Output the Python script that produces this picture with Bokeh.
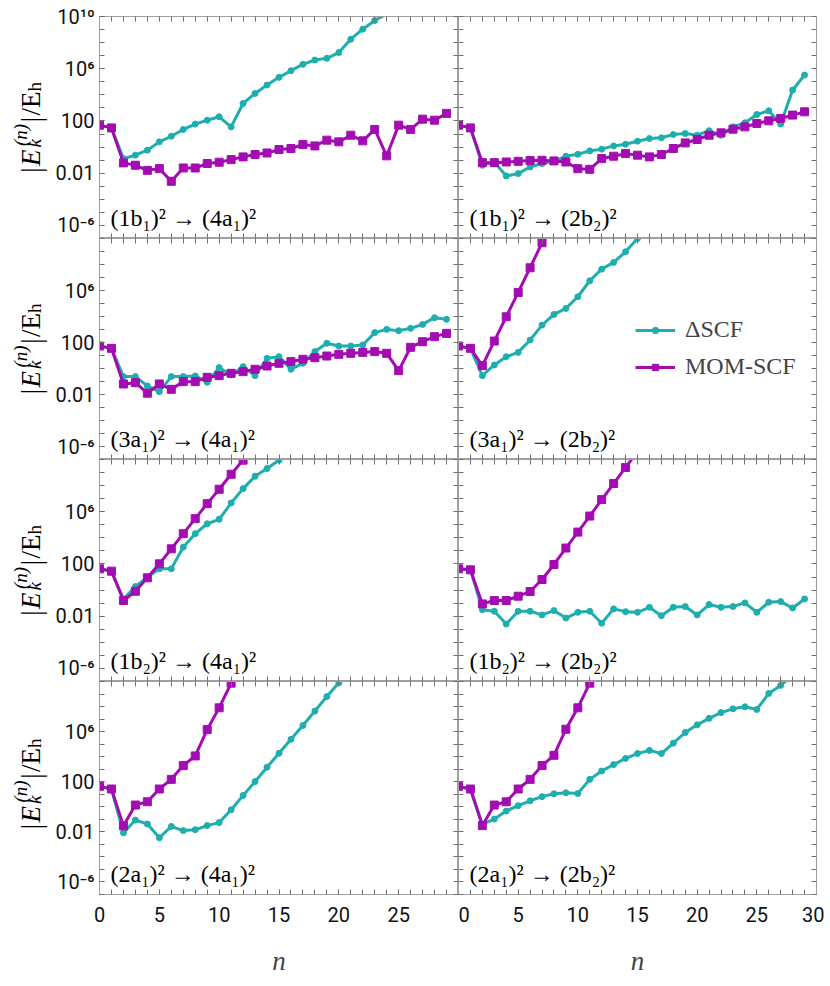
from bokeh.plotting import figure
from bokeh.layouts import gridplot
from bokeh.models import (Range1d, FixedTicker, LogAxis, LinearAxis, CustomJSTickFormatter,
                          Label, Legend, LegendItem)
from bokeh.embed import file_html
from bokeh.resources import INLINE

# ---------------- data (log10 of |E_k^(n)| / E_h) ----------------
n_values = list(range(30))

panel_titles = ["(1b₁)² → (4a₁)²", "(1b₁)² → (2b₂)²",
                "(3a₁)² → (4a₁)²", "(3a₁)² → (2b₂)²",
                "(1b₂)² → (4a₁)²", "(1b₂)² → (2b₂)²",
                "(2a₁)² → (4a₁)²", "(2a₁)² → (2b₂)²"]

dscf_1b1_4a1 = [1.68, 1.47, -0.88, -0.62, -0.24, 0.40, 0.83, 1.35, 1.76, 2.06, 2.32, 1.55, 3.34, 4.11,
                4.75, 5.34, 5.85, 6.34, 6.67, 6.80, 7.24, 8.26, 9.03, 9.69, 10.2]
mom_1b1_4a1 = [1.68, 1.47, -1.21, -1.39, -1.78, -1.65, -2.62, -1.60, -1.60, -1.26, -1.16, -0.96, -0.75,
               -0.57, -0.45, -0.19, -0.11, 0.19, 0.09, 0.53, 0.40, 0.91, 0.48, 1.35, -0.67, 1.68, 1.35,
               2.14, 2.06, 2.58]

dscf_1b1_2b2 = [1.68, 1.47, -1.39, -1.14, -2.21, -2.03, -1.52, -1.26, -1.09, -0.70, -0.55, -0.29, -0.16,
                0.09, 0.22, 0.45, 0.66, 0.71, 0.96, 1.04, 0.91, 1.25, 0.91, 1.55, 1.86, 2.50, 2.78, 1.76,
                4.37, 5.52]
mom_1b1_2b2 = [1.68, 1.47, -1.19, -1.19, -1.14, -1.09, -1.03, -1.01, -1.06, -1.14, -1.65, -1.70, -0.88,
               -0.70, -0.50, -0.62, -0.75, -0.57, -0.11, 0.32, 0.58, 0.91, 1.09, 1.37, 1.55, 1.81, 2.01,
               2.19, 2.45, 2.70]

dscf_3a1_4a1 = [1.73, 1.55, -0.62, -0.62, -1.34, -1.78, -0.62, -0.62, -0.57, -1.06, 0.07, -0.50, 0.14,
                -0.55, 0.78, 0.91, -0.06, 0.40, 1.30, 1.94, 1.73, 1.73, 1.81, 2.76, 3.01, 2.91, 3.09,
                3.39, 3.91, 3.78]
mom_3a1_4a1 = [1.73, 1.55, -1.19, -1.09, -1.90, -1.19, -1.60, -1.01, -1.01, -0.68, -0.55, -0.37, -0.24,
               -0.06, 0.19, 0.40, 0.53, 0.71, 0.83, 0.96, 1.09, 1.17, 1.24, 1.30, 1.17, -0.16, 1.63,
               2.06, 2.45, 2.70]

dscf_3a1_2b2 = [1.73, 1.55, -0.55, 0.27, 0.91, 1.24, 2.19, 3.34, 4.16, 4.62, 5.52, 6.75, 7.64, 8.16,
                8.98, 10.0, 11.0]
mom_3a1_2b2 = [1.73, 1.55, 0.22, 2.11, 3.98, 5.85, 7.75, 9.67, 11.2]

dscf_1b2_4a1 = [1.63, 1.45, -0.68, 0.27, 0.99, 1.63, 1.63, 3.29, 4.32, 5.08, 5.42, 6.67, 7.77, 8.72,
                9.31, 9.95, 10.6]
mom_1b2_4a1 = [1.63, 1.45, -0.80, -0.09, 0.94, 2.01, 3.16, 4.32, 5.47, 6.62, 7.72, 8.87, 9.95, 11.0]

dscf_1b2_2b2 = [1.63, 1.55, -1.50, -1.62, -2.60, -1.62, -1.62, -1.90, -1.57, -2.14, -1.70, -1.62, -2.54,
                -1.44, -1.65, -1.70, -1.32, -1.96, -1.32, -1.26, -1.90, -1.11, -1.32, -1.26, -0.98,
                -1.70, -0.93, -0.88, -1.37, -0.68]
mom_1b2_2b2 = [1.63, 1.55, -1.06, -0.80, -0.80, -0.47, -0.11, 0.81, 1.96, 3.22, 4.44, 5.67, 6.93, 8.16,
               9.39, 10.6]

dscf_2a1_4a1 = [1.63, 1.42, -2.08, -1.06, -1.37, -2.47, -1.57, -1.90, -1.83, -1.50, -1.26, -0.24, 0.91,
                2.01, 3.16, 4.27, 5.39, 6.49, 7.64, 8.80, 9.90, 11.0]
mom_2a1_4a1 = [1.63, 1.42, -1.52, 0.14, 0.40, 1.42, 2.19, 3.29, 4.06, 6.16, 7.90, 9.87, 11.5]

dscf_2a1_2b2 = [1.63, 1.42, -1.39, -0.98, -0.34, 0.09, 0.48, 0.81, 1.04, 1.12, 1.06, 2.19, 2.86, 3.37,
                3.86, 4.25, 4.50, 4.25, 5.08, 5.93, 6.54, 7.06, 7.52, 7.82, 7.98, 7.77, 9.05, 9.69, 10.5]
mom_2a1_2b2 = [1.63, 1.42, -1.50, 0.14, 0.40, 1.42, 2.19, 3.29, 4.11, 6.19, 7.90, 9.87, 11.5]

dscf_series = [dscf_1b1_4a1, dscf_1b1_2b2, dscf_3a1_4a1, dscf_3a1_2b2,
               dscf_1b2_4a1, dscf_1b2_2b2, dscf_2a1_4a1, dscf_2a1_2b2]
mom_series = [mom_1b1_4a1, mom_1b1_2b2, mom_3a1_4a1, mom_3a1_2b2,
              mom_1b2_4a1, mom_1b2_2b2, mom_2a1_4a1, mom_2a1_2b2]

legend_labels = ["ΔSCF", "MOM-SCF"]

y_tick_values = [1e-6, 1e-2, 1e2, 1e6, 1e10]
y_tick_labels = ["10⁻⁶", "0.01", "100", "10⁶", "10¹⁰"]
y_minor_values = [1e-7, 1e-6, 1e-5, 1e-4, 1e-3, 1e-2, 1e-1, 1e0, 1e1, 1e2, 1e3, 1e4, 1e5, 1e6,
                  1e7, 1e8, 1e9, 1e10]
x_tick_values = [0, 5, 10, 15, 20, 25, 30]
x_minor_values = list(range(31))

# ---------------- style ----------------
TEAL = "#1faeae"
PURPLE = "#a30cb2"
FRAME = "#a0a0a0"
TICK = "#707070"
SANS = "Roboto"
SERIF = "Liberation Serif"

LAB_W = 50
frame_w = [359, 358]
frame_h = [222, 221, 222, 221]


def y_formatter():
    return CustomJSTickFormatter(args=dict(vals=y_tick_values, labs=y_tick_labels), code="""
        for (let i = 0; i < vals.length; i++) {
            if (Math.abs(Math.log10(vals[i]) - Math.log10(tick)) < 1e-6) return labs[i];
        }
        return "";
    """)


def style_axis(ax, show_labels):
    ax.axis_line_color = FRAME
    ax.axis_line_width = 1
    ax.major_tick_line_color = TICK
    ax.minor_tick_line_color = TICK
    ax.major_tick_in = 5
    ax.major_tick_out = 0
    ax.minor_tick_in = 5
    ax.minor_tick_out = 0
    ax.major_label_text_font = SANS
    ax.major_label_text_font_size = "20px"
    ax.major_label_text_color = "#111111"
    if not show_labels:
        ax.major_label_standoff = 0


def label_figure(fh, top, bottom):
    """A narrow, axis-less panel that carries the rotated y-axis title."""
    q = figure(width=LAB_W, height=top + fh + bottom, x_range=Range1d(0, 1), y_range=Range1d(0, 1),
               x_axis_location=None, y_axis_location=None, output_backend="svg",
               toolbar_location=None, min_border_left=0, min_border_right=0,
               min_border_top=top, min_border_bottom=bottom)
    q.outline_line_color = None
    q.xgrid.visible = False
    q.ygrid.visible = False
    big, bar, scr = 27, 29, 19
    xb = 30
    gap = 1.2
    adv_bar = 0.2 * bar + gap
    adv_E = 0.69 * big + gap
    adv_scr = 1.17 * scr + gap
    adv_slE = 0.889 * big
    adv_h = 0.5 * scr
    total = adv_bar + adv_E + adv_scr + adv_bar + adv_slE + adv_h
    y0 = fh / 2 - total / 2
    pieces = [
        ("|", bar, "normal", 0, y0),
        ("E", big, "italic", 0, y0 + adv_bar),
        ("(n)", scr, "italic", -0.38 * big, y0 + adv_bar + adv_E),
        ("k", scr, "italic", 0.16 * big, y0 + adv_bar + adv_E - 0.05 * big),
        ("|", bar, "normal", 0, y0 + adv_bar + adv_E + adv_scr),
        ("/E", big, "normal", 0, y0 + 2 * adv_bar + adv_E + adv_scr),
        ("h", scr, "normal", 0.16 * big, y0 + 2 * adv_bar + adv_E + adv_scr + adv_slE),
    ]
    for txt, size, style, dx, yy in pieces:
        q.add_layout(Label(x=xb + dx, y=yy, x_units="screen", y_units="screen", text=txt,
                           angle=90, angle_units="deg", text_font=SERIF,
                           text_font_size=f"{size:.1f}px", text_font_style=style,
                           text_baseline="alphabetic", text_align="left", text_color="black"))
    return q


rows = []
for r in range(4):
    top = 16 if r == 0 else 0
    bottom = 76 if r == 3 else 0
    row = [label_figure(frame_h[r], top, bottom)]
    for c in range(2):
        k = 2 * r + c
        left = (99 - LAB_W) if c == 0 else 0
        right = 0 if c == 0 else 8
        p = figure(width=left + frame_w[c] + right, height=top + frame_h[r] + bottom,
                   x_range=Range1d(0, 30), y_range=Range1d(1e-7, 1e10), y_axis_type="log",
                   output_backend="svg", toolbar_location=None,
                   min_border_left=left, min_border_right=right,
                   min_border_top=top, min_border_bottom=bottom)
        p.xgrid.visible = False
        p.ygrid.visible = False
        p.outline_line_color = FRAME
        p.background_fill_color = "white"
        p.border_fill_color = "white"

        ymaj = y_tick_values if r == 0 else y_tick_values[:-1]
        xmaj = x_tick_values if c == 1 else x_tick_values[:-1]

        # left axis (labelled only in the left column; elsewhere ticks only, no label texts)
        la = p.yaxis[0]
        if c == 0:
            la.ticker = FixedTicker(ticks=ymaj, minor_ticks=y_minor_values)
            la.formatter = y_formatter()
            style_axis(la, True)
            la.major_label_standoff = 5
        else:
            la.ticker = FixedTicker(ticks=[], minor_ticks=y_minor_values)
            style_axis(la, False)
        # bottom axis (labelled only in the bottom row)
        ba = p.xaxis[0]
        if r == 3:
            ba.ticker = FixedTicker(ticks=xmaj, minor_ticks=x_minor_values)
            style_axis(ba, True)
            ba.major_label_standoff = 12
            ba.axis_label = "n"
            ba.axis_label_text_font = SERIF
            ba.axis_label_text_font_style = "italic"
            ba.axis_label_text_font_size = "27px"
            ba.axis_label_standoff = 21
        else:
            ba.ticker = FixedTicker(ticks=[], minor_ticks=x_minor_values)
            style_axis(ba, False)
        # right axis: ticks only
        ra = LogAxis(ticker=FixedTicker(ticks=[], minor_ticks=y_minor_values))
        style_axis(ra, False)
        p.add_layout(ra, "right")
        # top axis: ticks only
        ta = LinearAxis(ticker=FixedTicker(ticks=[], minor_ticks=x_minor_values))
        style_axis(ta, False)
        p.add_layout(ta, "above")

        dv = dscf_series[k]
        mv = mom_series[k]
        xd = n_values[:len(dv)]
        yd = [10 ** v for v in dv]
        xm = n_values[:len(mv)]
        ym = [10 ** v for v in mv]
        tl = p.line(xd, yd, line_color=TEAL, line_width=3)
        ts = p.scatter(xd, yd, marker="circle", size=6, color=TEAL)
        ml = p.line(xm, ym, line_color=PURPLE, line_width=3)
        ms = p.scatter(xm, ym, marker="square", size=8, color=PURPLE)

        p.add_layout(Label(x=11, y=21, x_units="screen", y_units="screen", text=panel_titles[k],
                           text_font=SERIF, text_font_size="24px", text_baseline="middle",
                           text_color="black"))
        if k == 3:
            leg = Legend(items=[LegendItem(label=legend_labels[0], renderers=[tl, ts]),
                                LegendItem(label=legend_labels[1], renderers=[ml, ms])],
                         location=(177, 79), orientation="vertical",
                         border_line_color=None, background_fill_alpha=0,
                         label_text_font=SERIF, label_text_font_size="24px",
                         glyph_width=40, glyph_height=16, label_height=20,
                         label_standoff=10, spacing=10, padding=0, margin=0)
            p.add_layout(leg)
        row.append(p)
    rows.append(row)

grid = gridplot(rows, toolbar_location=None)

open("out.html", "w").write(file_html(grid, INLINE))
